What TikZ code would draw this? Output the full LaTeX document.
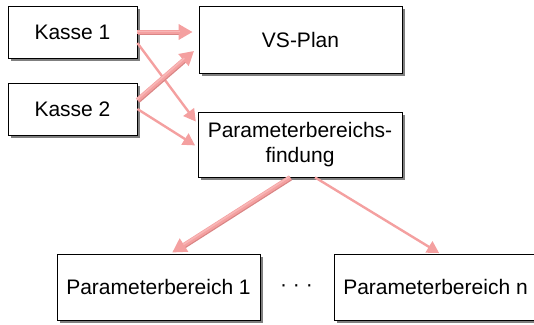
\documentclass[tikz,border=0pt]{standalone}
\usepackage{fontspec}
\setmainfont{Liberation Sans}
\usetikzlibrary{arrows.meta,shadows}

\definecolor{arrowpink}{HTML}{F4A0A0}
\definecolor{arrowlight}{HTML}{F8B6B6}
\definecolor{arrowdark}{HTML}{D98585}
\definecolor{boxshadow}{HTML}{7F7F7F}

\tikzset{
  box/.style={draw=black, line width=0.8pt, fill=white, inner sep=0pt,
    minimum width=203pt, align=center,
    font=\fontsize{21}{25.5}\selectfont,
    drop shadow={shadow xshift=3pt, shadow yshift=-3pt, fill=boxshadow, opacity=1}},
  fatshade/.style={draw=arrowdark, line width=5pt, transform canvas={shift={(0.7pt,-0.7pt)}}},
  fatarrow/.style={draw=arrowpink, line width=4.5pt,
    -{Triangle[length=14pt,width=15pt,fill=arrowpink]}},
  fatgloss/.style={draw=arrowlight, line width=1.6pt, transform canvas={shift={(-0.6pt,0.6pt)}}},
  thinarrow/.style={draw=arrowpink, line width=2.4pt,
    -{Triangle[length=12pt,width=13pt,fill=arrowpink]}},
}

\begin{document}
\begin{tikzpicture}[x=1pt,y=-1pt]
\useasboundingbox (0,0) rectangle (534,324);

% boxes
\node[box, minimum width=129pt, minimum height=52pt] (k1) at (72.5,32) {Kasse 1};
\node[box, minimum width=129pt, minimum height=52pt] (k2) at (72.5,109) {Kasse 2};
\node[box, minimum height=67pt] (vs) at (300.5,39.5) {VS-Plan};
\node[box, minimum width=204pt, minimum height=65pt] (pf) at (300,144.5) {Parameterbereichs-\\findung};
\node[box, minimum height=66pt] (pb1) at (158.5,287) {Parameterbereich 1};
\node[box, minimum height=66pt] (pbn) at (435.5,287) {Parameterbereich n};
\node[font=\fontsize{21}{25}\selectfont, inner sep=0pt] (dots) at (296.5,288) {· · ·};

% thin connectors
\draw[thinarrow, shorten >=3pt] ([yshift=-11pt]k1.east) -- ([yshift=20.5pt]pf.west);
\draw[thinarrow, shorten >=3pt] (k2.east) -- ([yshift=-2.5pt]pf.west);
\draw[thinarrow, shorten >=1pt] ([xshift=15pt]pf.south) -- ([xshift=4.5pt]pbn.north);

% thick connectors: shade, body, highlight
\draw[fatshade, shorten >=14pt] (k1.east) -- ([yshift=7.5pt]vs.west);
\draw[fatarrow, shorten >=6pt] (k1.east) -- ([yshift=7.5pt]vs.west);
\draw[fatgloss, shorten >=18pt] (k1.east) -- ([yshift=7.5pt]vs.west);

\draw[fatshade, shorten >=14pt] ([yshift=9pt]k2.east) -- ([yshift=-7.5pt]vs.west);
\draw[fatarrow, shorten >=6pt] ([yshift=9pt]k2.east) -- ([yshift=-7.5pt]vs.west);
\draw[fatgloss, shorten >=18pt] ([yshift=9pt]k2.east) -- ([yshift=-7.5pt]vs.west);

\draw[fatshade, shorten >=12pt] ([xshift=-10pt]pf.south) -- ([xshift=12pt]pb1.north);
\draw[fatarrow, shorten >=2pt] ([xshift=-10pt]pf.south) -- ([xshift=12pt]pb1.north);
\draw[fatgloss, shorten >=16pt] ([xshift=-10pt]pf.south) -- ([xshift=12pt]pb1.north);
\end{tikzpicture}
\end{document}
